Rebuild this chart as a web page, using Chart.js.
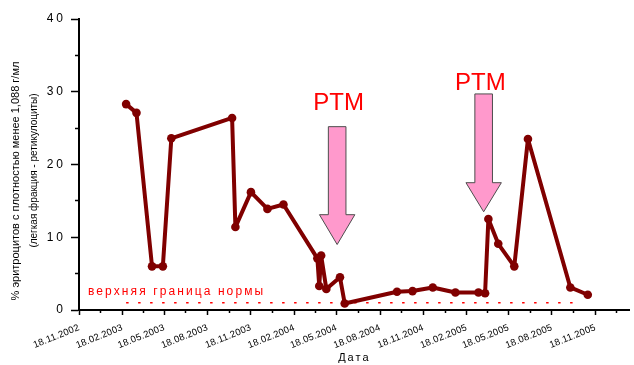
<!DOCTYPE html>
<html>
<head>
<meta charset="utf-8">
<script src="https://cdn.jsdelivr.net/npm/chart.js@4/dist/chart.umd.min.js"></script>
<style>
  html, body { margin: 0; padding: 0; background: #ffffff; }
  #c { display: block; }
</style>
</head>
<body>
<canvas id="c" width="634" height="365"></canvas>
<script>
// ---------------- DATA ----------------
const sampleDates = [
  '2003-02-26', '2003-03-20', '2003-04-22', '2003-05-15', '2003-06-02',
  '2003-10-09', '2003-10-16', '2003-11-18', '2003-12-23', '2004-01-26',
  '2004-04-07', '2004-04-11', '2004-04-15', '2004-04-26', '2004-05-25',
  '2004-06-04', '2004-09-23', '2004-10-26', '2004-12-08', '2005-01-25',
  '2005-03-15', '2005-03-29', '2005-04-05', '2005-04-26', '2005-05-30',
  '2005-06-28', '2005-09-26', '2005-11-02'
];
const reticPercent = [
  28.3, 27.1, 6.0, 6.0, 23.6,
  26.4, 11.4, 16.2, 13.9, 14.5,
  7.1, 3.3, 7.5, 2.9, 4.5,
  0.9, 2.5, 2.6, 3.1, 2.4,
  2.4, 2.3, 12.5, 9.1, 6.0,
  23.5, 3.1, 2.1
];
const xTickLabels = [
  '18.11.2002', '18.02.2003', '18.05.2003', '18.08.2003', '18.11.2003',
  '18.02.2004', '18.05.2004', '18.08.2004', '18.11.2004', '18.02.2005',
  '18.05.2005', '18.08.2005', '18.11.2005'
];
const xAxisEnd = '2006-01-30';
const yMinorTicks = [5, 15, 25, 35];

const normLimitValue = 1;
const normLineDates = ['2003-02-26', '2005-10-10'];
const normText = 'верхняя граница нормы';
const normTextDate = '2002-12-07';
const normTextValue = 2.5;

const ptmText = 'PTM';
const ptmArrowDates = ['2004-05-19', '2005-03-26'];
const ptmShaftTop = [25.2, 29.7];
const ptmHeadBase = [13.1, 17.5];
const ptmTip = [9.0, 13.5];
const ptmLabelDates = ['2004-05-22', '2005-03-19'];
const ptmLabelValues = [28.4, 31.2];

const yTitleLines = ['% эритроцитов с плотностью менее 1,088 г/мл', '(легкая фракция - ретикулоциты)'];
const xTitle = 'Дата';

// ---------------- HELPERS ----------------
const ORIGIN = Date.UTC(2002, 10, 18);
function dayIndex(iso) {
  const [y, m, d] = iso.split('-').map(Number);
  return (Date.UTC(y, m - 1, d) - ORIGIN) / 86400000;
}
function labelToIso(lbl) {
  const [d, m, y] = lbl.split('.');
  return y + '-' + m + '-' + d;
}
const xTickDays = xTickLabels.map(l => dayIndex(labelToIso(l)));
const xMinorDays = xTickDays.map((d, i) =>
  i < xTickDays.length - 1 ? (d + xTickDays[i + 1]) / 2 : d + (d - xTickDays[i - 1]) / 2);
const xMaxDay = dayIndex(xAxisEnd);

const FONT = "'Liberation Sans', Arial, sans-serif";
Chart.defaults.font.family = FONT;
Chart.defaults.color = '#000';

// letter spacing per scale (labels / title)
const spacingPlugin = {
  id: 'spacing',
  afterUpdate(chart) {
    const conf = { x: { labels: '0.2px', title: '2px' }, y: { labels: '3px', title: '0px' } };
    Object.keys(conf).forEach(id => {
      const s = chart.scales[id];
      if (!s || s._wrapped) return;
      const c = conf[id];
      const dl = s.drawLabels.bind(s), dt = s.drawTitle.bind(s);
      s.drawLabels = function (a) { const ctx = chart.ctx; ctx.save(); ctx.letterSpacing = c.labels; dl(a); ctx.restore(); };
      s.drawTitle = function (a) { const ctx = chart.ctx; ctx.save(); ctx.letterSpacing = c.title; dt(a); ctx.restore(); };
      s._wrapped = true;
    });
  }
};

const annotPlugin = {
  id: 'annot',
  afterDatasetsDraw(chart) {
    const ctx = chart.ctx, xs = chart.scales.x, ys = chart.scales.y;
    ctx.save();
    // norm text
    ctx.letterSpacing = '2.1px';
    ctx.fillStyle = '#FF0000';
    ctx.font = '12px ' + FONT;
    ctx.textAlign = 'left';
    ctx.textBaseline = 'middle';
    ctx.fillText(normText, xs.getPixelForValue(dayIndex(normTextDate)), ys.getPixelForValue(normTextValue));
    ctx.letterSpacing = '0px';
    // arrows
    ptmArrowDates.forEach((d, i) => {
      const cx = xs.getPixelForValue(dayIndex(d));
      const yt = ys.getPixelForValue(ptmShaftTop[i]);
      const yh = ys.getPixelForValue(ptmHeadBase[i]);
      const yp = ys.getPixelForValue(ptmTip[i]);
      const sw = 8.8, hw = 17.7;
      ctx.beginPath();
      ctx.moveTo(cx - sw, yt);
      ctx.lineTo(cx + sw, yt);
      ctx.lineTo(cx + sw, yh);
      ctx.lineTo(cx + hw, yh);
      ctx.lineTo(cx, yp);
      ctx.lineTo(cx - hw, yh);
      ctx.lineTo(cx - sw, yh);
      ctx.closePath();
      ctx.fillStyle = '#FF99CC';
      ctx.fill();
      ctx.strokeStyle = '#4D4D4D';
      ctx.lineWidth = 1;
      ctx.stroke();
      ctx.fillStyle = '#FF0000';
      ctx.font = '24px ' + FONT;
      ctx.textAlign = 'center';
      ctx.textBaseline = 'middle';
      ctx.fillText(ptmText, xs.getPixelForValue(dayIndex(ptmLabelDates[i])), ys.getPixelForValue(ptmLabelValues[i]));
    });
    ctx.restore();
  },
  afterDraw(chart) {
    const ctx = chart.ctx;
    const ca = chart.chartArea;
    ctx.save();
    ctx.letterSpacing = '0px';
    ctx.fillStyle = '#000';
    ctx.textAlign = 'center';
    ctx.textBaseline = 'middle';
    const pos = [{ x: 16, y: ca.top + 162, size: 11 }, { x: 34.7, y: ca.top + 151.5, size: 10 }];
    yTitleLines.forEach((t, i) => {
      ctx.save();
      ctx.translate(pos[i].x, pos[i].y);
      ctx.rotate(-Math.PI / 2);
      ctx.font = pos[i].size + 'px ' + FONT;
      ctx.fillText(t, 0, 0);
      ctx.restore();
    });
    ctx.restore();
  }
};

const mainData = sampleDates.map((d, i) => ({ x: dayIndex(d), y: reticPercent[i] }));
const normData = normLineDates.map(d => ({ x: dayIndex(d), y: normLimitValue }));

new Chart(document.getElementById('c'), {
  type: 'line',
  data: {
    datasets: [
      {
        data: mainData,
        borderColor: '#800000',
        backgroundColor: '#800000',
        borderWidth: 4,
        borderJoinStyle: 'round',
        borderCapStyle: 'round',
        pointRadius: 4.3,
        pointBorderWidth: 0,
        pointBackgroundColor: '#800000',
        tension: 0,
        fill: false,
        xAxisID: 'x', yAxisID: 'y'
      },
      {
        data: normData,
        borderColor: '#FF0000',
        borderWidth: 1.5,
        borderDash: [2.5, 9.5],
        pointRadius: 0,
        fill: false,
        xAxisID: 'x', yAxisID: 'y'
      }
    ]
  },
  options: {
    responsive: false,
    animation: false,
    devicePixelRatio: 1,
    layout: { padding: { top: 19, left: 0, right: 0, bottom: 0 } },
    plugins: { legend: { display: false }, tooltip: { enabled: false } },
    scales: {
      x: {
        type: 'linear', position: 'bottom', weight: 1, min: 0, max: xMaxDay,
        afterBuildTicks: s => { s.ticks = xTickDays.map(v => ({ value: v })); },
        afterFit: s => { s.height = 55; },
        ticks: {
          autoSkip: false, minRotation: 22, maxRotation: 22, padding: 7, color: '#000',
          font: { family: FONT, size: 9.5 },
          callback: (v, i) => xTickLabels[i]
        },
        grid: { drawOnChartArea: false, drawTicks: true, tickLength: 5, tickColor: '#000', tickWidth: 1.5 },
        border: { display: true, color: '#000', width: 2 },
        title: { display: true, text: xTitle, color: '#000', font: { family: FONT, size: 11 }, padding: { top: 0, bottom: 0 } }
      },
      xMinor: {
        type: 'linear', position: 'bottom', weight: 0, min: 0, max: xMaxDay,
        afterBuildTicks: s => { s.ticks = xMinorDays.map(v => ({ value: v })); },
        afterFit: s => { s.height = 0; },
        ticks: { display: false },
        grid: { drawOnChartArea: false, drawTicks: true, tickLength: 3, tickColor: '#000', tickWidth: 1.5 },
        border: { display: false }
      },
      y: {
        type: 'linear', position: 'left', weight: 1, min: 0, max: 40,
        afterFit: s => { s.width = 79; },
        ticks: { stepSize: 10, padding: 5, color: '#000', font: { family: FONT, size: 12 } },
        grid: { drawOnChartArea: false, drawTicks: true, tickLength: 8, tickColor: '#000', tickWidth: 1.5 },
        border: { display: true, color: '#000', width: 2 }
      },
      yMinor: {
        type: 'linear', position: 'left', weight: 0, min: 0, max: 40,
        afterBuildTicks: s => { s.ticks = yMinorTicks.map(v => ({ value: v })); },
        afterFit: s => { s.width = 0; },
        ticks: { display: false },
        grid: { drawOnChartArea: false, drawTicks: true, tickLength: 4, tickColor: '#000', tickWidth: 1.5 },
        border: { display: false }
      }
    }
  },
  plugins: [spacingPlugin, annotPlugin]
});
</script>
</body>
</html>
